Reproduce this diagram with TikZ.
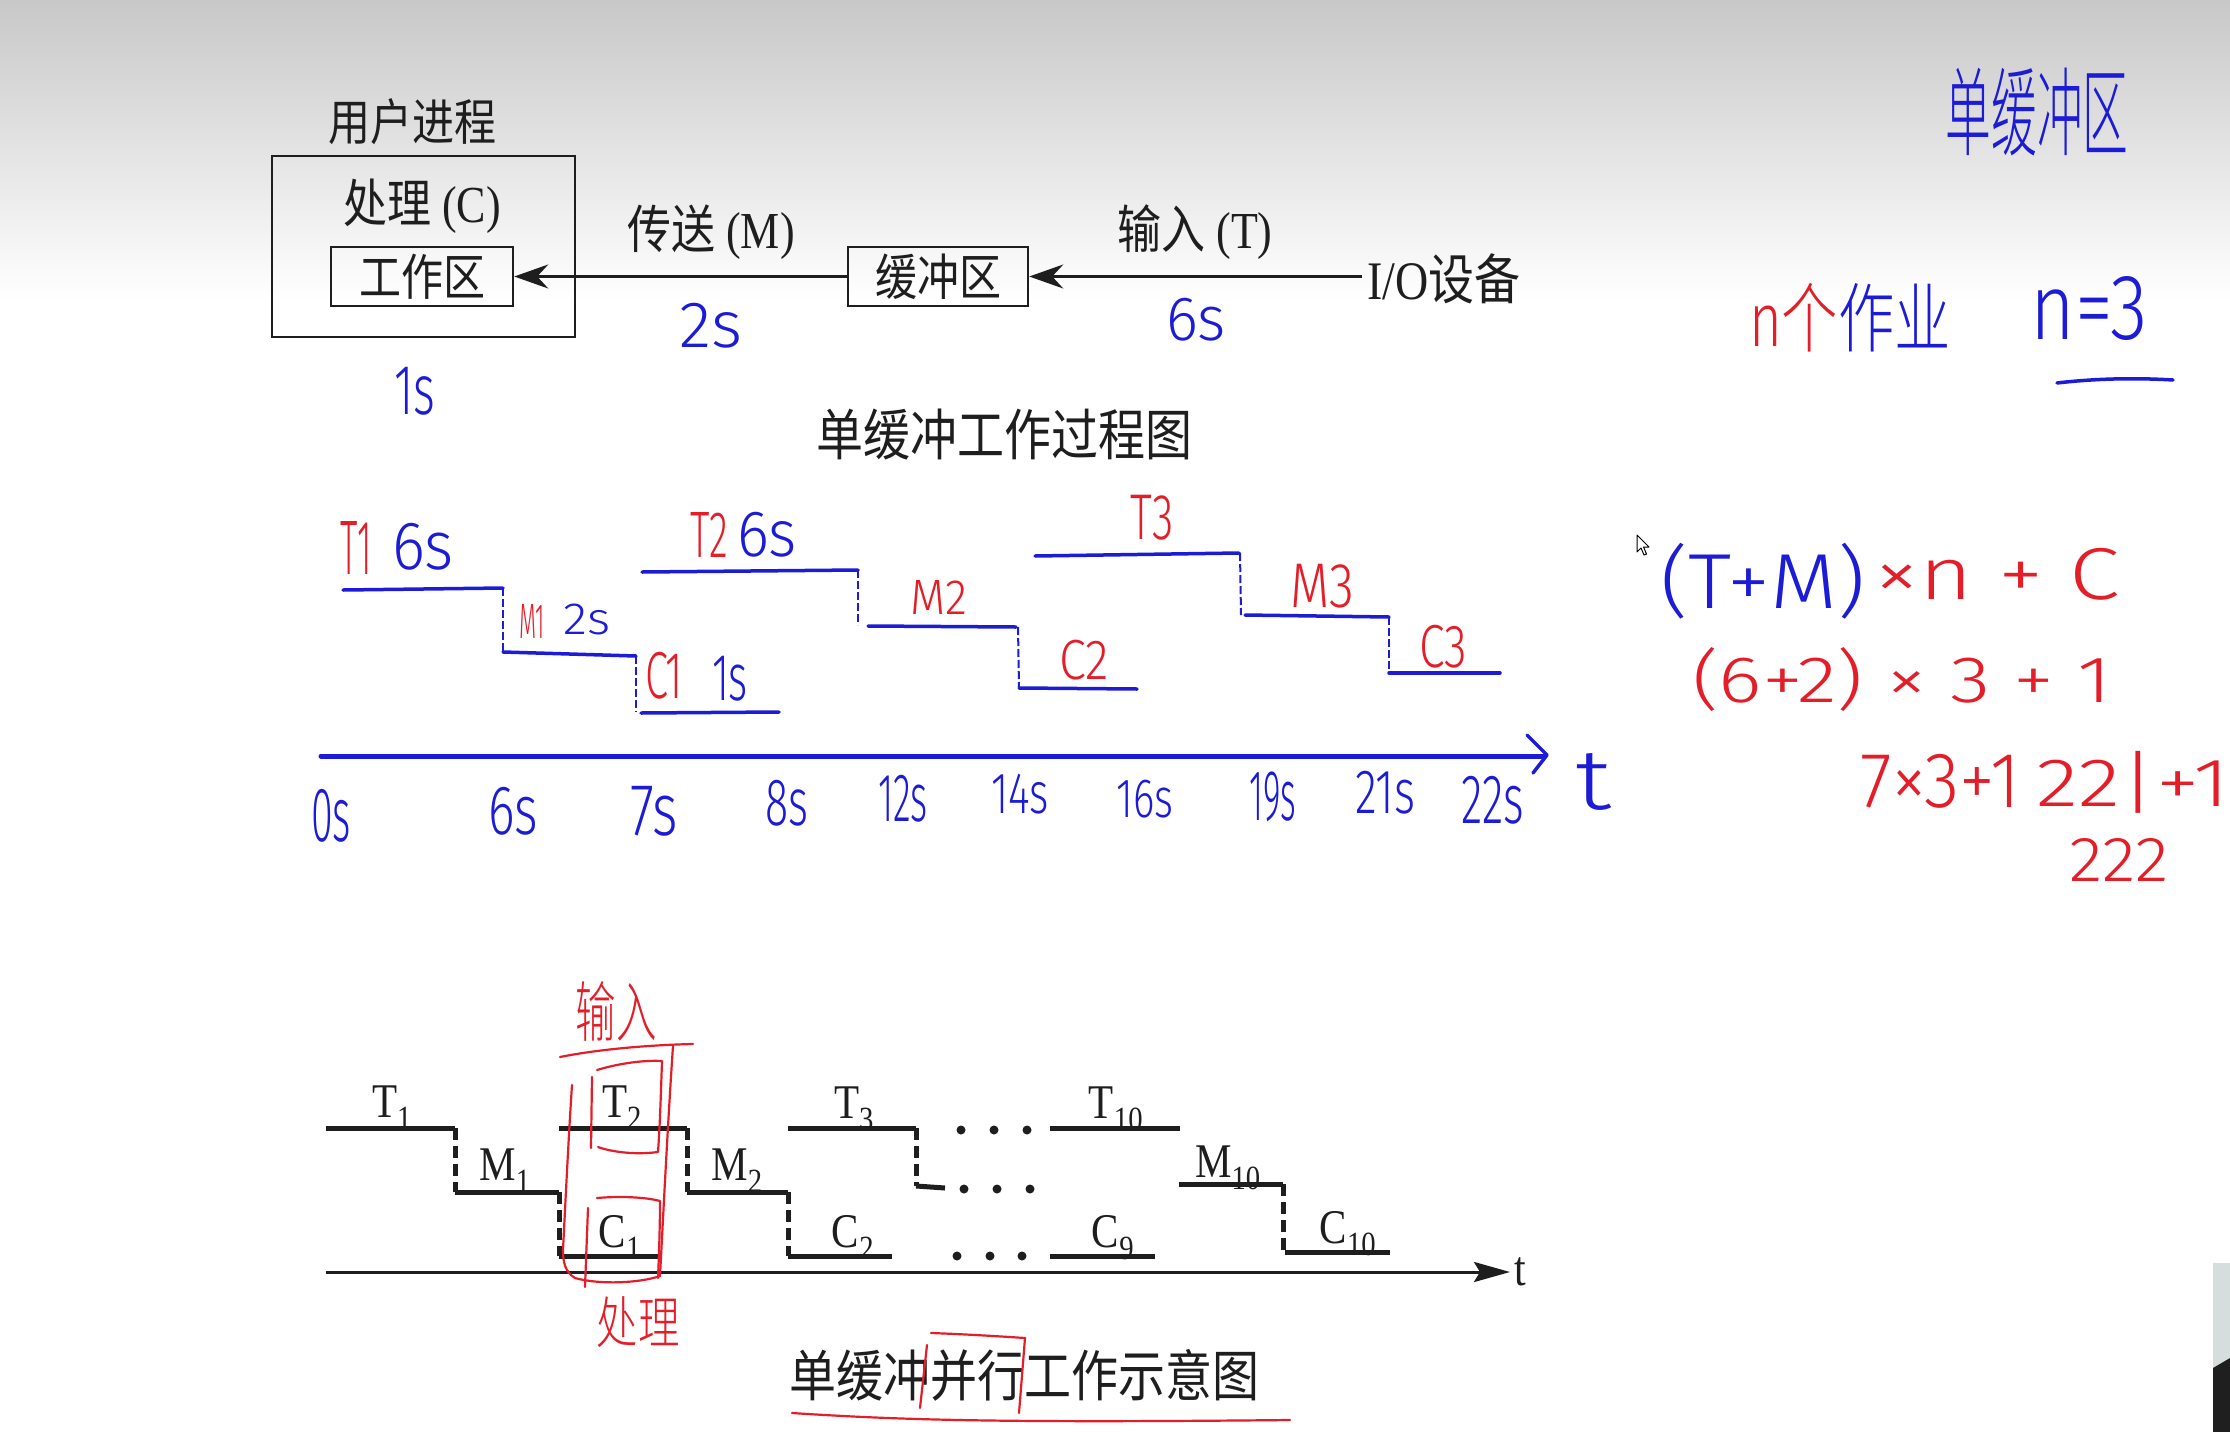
\documentclass[tikz,border=0pt]{standalone}
\usepackage{fontspec}
\usepackage{graphicx}
\setmainfont{Liberation Serif}
\newfontfamily\cjkf{Noto Sans CJK SC}
\newfontfamily\cjkl{Noto Sans CJK SC}[UprightFont=* Light]
\newfontfamily\handf{Fira Sans}[UprightFont=* Light]
\usetikzlibrary{arrows.meta}
\definecolor{ink}{RGB}{30,30,30}
\definecolor{hblue}{RGB}{28,28,215}
\definecolor{hred}{RGB}{228,30,40}
\definecolor{bgtop}{RGB}{200,200,200}
\definecolor{camlight}{RGB}{214,222,221}
\newcommand{\hwbox}[3]{\resizebox*{#1pt}{#2pt}{#3}}
\newcommand{\tall}[1]{\scalebox{1}[1.18]{#1}}
\begin{document}
\begin{tikzpicture}[x=1pt,y=-1pt,
  pt/.style={inner sep=0pt, text=ink, font=\fontsize{44}{48}\selectfont},
  cjk/.style={inner sep=0pt, text=ink, font=\cjkf\fontsize{#1}{#1}\selectfont},
  box/.style={draw=ink, line width=2.5pt, inner sep=0pt, minimum height=59pt, text=ink, font=\cjkf\fontsize{42}{46}\selectfont},
  hwb/.style={inner sep=0pt, text=hblue, font=\handf\fontsize{50}{50}\selectfont},
  hwr/.style={inner sep=0pt, text=hred, font=\handf\fontsize{50}{50}\selectfont},
  hwc/.style={inner sep=0pt, font=\cjkl\fontsize{50}{50}\selectfont},
  hstep/.style={hblue, line width=3.5pt, line cap=round},
  hdrop/.style={hblue, line width=2pt, dash pattern=on 8pt off 3pt},
  bstep/.style={ink, line width=5pt},
  bdrop/.style={ink, line width=5pt, dash pattern=on 12pt off 6pt},
  blbl/.style={inner sep=0pt, text=ink, font=\fontsize{41}{44}\selectfont, anchor=base},
  rline/.style={hred, line width=2.2pt, line cap=round, line join=round},
  dotb/.style={circle, fill=ink, inner sep=0pt, minimum size=9pt},
]
\useasboundingbox (0,0) rectangle (2230,1432);
\fill[white] (0,0) rectangle (2230,1432);
\shade[top color=bgtop, bottom color=white] (0,0) rectangle (2230,300);

% ---------- top diagram ----------
\node[cjk=42] (user) at (412,122) {\tall{用户进程}};
\node[box, minimum width=303pt, minimum height=181pt] (outer) at (423.5,246.5) {};
\node[pt] (proclbl) at (422,206) {\tall{{\cjkf 处理} (C)}};
\node[box, minimum width=182pt] (work) at (422,276.5) {\tall{工作区}};
\node[box, minimum width=180pt] (buf) at (938,276.5) {\tall{缓冲区}};
\node[pt, anchor=west, inner sep=5pt, font=\fontsize{46}{48}\selectfont] (io) at (1362,279) {\tall{I/O{\cjkf 设备}}};
\draw[ink, line width=2.5pt, -{Stealth[length=34pt,width=24pt]}] (buf.west) -- (work.east);
\draw[ink, line width=2.5pt, -{Stealth[length=34pt,width=24pt]}] (io.west |- buf.east) -- (buf.east);
\node[pt] (send) at (711,232) {\tall{{\cjkf 传送} (M)}};
\node[pt] (inp) at (1195,232) {\tall{{\cjkf 输入} (T)}};
\node[hwb] (h2s) at (711,326) {\hwbox{63}{45}{2s}};
\node[hwb] (h6s) at (1196,320) {\hwbox{60}{43}{6s}};
\node[hwb] (h1s) at (415,391) {\hwbox{41}{48}{1s}};
\node[cjk=47] (cap1) at (1004,435) {\tall{单缓冲工作过程图}};

% ---------- top right notes ----------
\node[hwc, text=hblue] (note1) at (2037,112) {\hwbox{183}{88}{单缓冲区}};
\node[hwc] (note2) at (1850,318)
  {\hwbox{202}{69}{\textcolor{hred}{{\handf n}个}\textcolor{hblue}{作业}}};
\node[hwb] (note3) at (2089,309) {\hwbox{117}{64}{n=3}};
\coordinate (ul1) at (2057,383);
\coordinate (ul2) at (2173,380);
\draw[hblue, line width=3.5pt, line cap=round] (ul1) .. controls (2100,378) and (2140,378) .. (ul2);

% ---------- middle hand-drawn chart ----------
\draw[hstep] (343,590) -- (503,588);
\draw[hdrop] (503,588) -- (503,652);
\draw[hstep] (503,652) -- (636,656);
\draw[hdrop] (636,656) -- (636,712);
\draw[hstep] (641,713) -- (779,712);
\draw[hstep] (642,572) -- (858,570);
\draw[hdrop] (858,570) -- (858,625);
\draw[hstep] (868,626) -- (1016,627);
\draw[hdrop] (1018,627) -- (1019,688);
\draw[hstep] (1019,688) -- (1137,689);
\draw[hstep] (1035,556) -- (1239,553);
\draw[hdrop] (1240,553) -- (1241,615);
\draw[hstep] (1245,615) -- (1389,617);
\draw[hdrop] (1389,617) -- (1389,673);
\draw[hstep] (1389,673) -- (1500,673);
\coordinate (ax0) at (321,756);
\coordinate (ax1) at (1543,756);
\draw[hblue, line width=5pt, line cap=round] (ax0) -- (ax1);
\draw[hblue, line width=3.5pt, line cap=round, line join=round] (1527,735) -- (1547,755) -- (1533,773);
\node[hwb] (ht) at (1593,782) {\hwbox{36}{57}{t}};

\node[hwr] (mT1) at (356,548) {\hwbox{31}{53}{T1}};
\node[hwb] (m6a) at (423,547) {\hwbox{62}{47}{6s}};
\node[hwr] (mM1) at (532,621) {\hwbox{26}{34}{M1}};
\node[hwb] (m2s) at (587,619) {\hwbox{47}{31}{2s}};
\node[hwr] (mC1) at (664,676) {\hwbox{38}{47}{C1}};
\node[hwb] (m1s) at (730,679) {\hwbox{36}{45}{1s}};
\node[hwr] (mT2) at (709,535) {\hwbox{38}{45}{T2}};
\node[hwb] (m6b) at (767,535) {\hwbox{60}{45}{6s}};
\node[hwr] (mM2) at (939,597) {\hwbox{57}{34}{M2}};
\node[hwr] (mC2) at (1084,660) {\hwbox{50}{40}{C2}};
\node[hwr] (mT3) at (1152,518) {\hwbox{43}{45}{T3}};
\node[hwr] (mM3) at (1322,586) {\hwbox{64}{44}{M3}};
\node[hwr] (mC3) at (1443,647) {\hwbox{48}{43}{C3}};

\node[hwb] (k0) at (331,816) {\hwbox{40}{53}{0s}};
\node[hwb] (k6) at (513,811) {\hwbox{50}{48}{6s}};
\node[hwb] (k7) at (654,811) {\hwbox{48}{50}{7s}};
\node[hwb] (k8) at (787,803) {\hwbox{43}{46}{8s}};
\node[hwb] (k12) at (903,799) {\hwbox{50}{47}{12s}};
\node[hwb] (k14) at (1020,794) {\hwbox{58}{40}{14s}};
\node[hwb] (k16) at (1145,799) {\hwbox{57}{38}{16s}};
\node[hwb] (k19) at (1273,797) {\hwbox{47}{50}{19s}};
\node[hwb] (k21) at (1385,793) {\hwbox{60}{43}{21s}};
\node[hwb] (k22) at (1493,800) {\hwbox{63}{48}{22s}};

% ---------- formula ----------
\node[hwb] (f1) at (1763,581) {\hwbox{205}{76}{(T+M)}};
\node[hwr] (f2) at (1997,574) {\hwbox{245}{52}{×n + C}};
\node[hwr] (f3) at (1902,679) {\hwbox{420}{64}{(6+2) × 3 + 1}};
\node[hwr] (f4) at (1940,781) {\hwbox{160}{54}{7×3+1}};
\node[hwr] (f5) at (2133,782) {\hwbox{193}{62}{22|+1}};
\node[hwr] (f6) at (2119,860) {\hwbox{100}{43}{222}};

% mouse pointer
\draw[black, fill=white, line width=1pt, line join=round]
  (1637,535) -- (1637,552) -- (1641,548) -- (1644,555) -- (1646.5,554) -- (1643.5,547) -- (1649,547) -- cycle;

% ---------- bottom printed chart ----------
\coordinate (bx0) at (326,1272);
\coordinate (bx1) at (1510,1272);
\draw[ink, line width=3pt, -{Stealth[length=36pt,width=20pt,inset=6pt]}] (bx0) -- (bx1);
\node[inner sep=0pt, text=ink, font=\fontsize{42}{42}\selectfont, anchor=west] (bt) at (1514,1272) {\tall{t}};

\draw[bstep] (326,1128) -- (455,1128);
\draw[bdrop] (455,1128) -- (455,1192);
\draw[bstep] (455,1192) -- (559,1192);
\draw[bdrop] (559,1192) -- (559,1256);
\draw[bstep] (559,1256) -- (661,1256);
\draw[bstep] (559,1128) -- (687,1128);
\draw[bdrop] (687,1128) -- (687,1192);
\draw[bstep] (687,1192) -- (788,1192);
\draw[bdrop] (788,1192) -- (788,1256);
\draw[bstep] (788,1256) -- (892,1256);
\draw[bstep] (788,1128) -- (916,1128);
\draw[bdrop] (916,1128) -- (916,1186);
\draw[bstep] (916,1186) -- (945,1188);
\draw[bstep] (1050,1128) -- (1180,1128);
\draw[bstep] (1179,1184) -- (1283,1184);
\draw[bdrop] (1283,1184) -- (1283,1252);
\draw[bstep] (1285,1252) -- (1390,1252);
\draw[bstep] (1050,1256) -- (1155,1256);

\foreach \i/\x in {a/961,b/994,c/1027} \node[dotb] (dt\i) at (\x,1130) {};
\foreach \i/\x in {a/964,b/997,c/1030} \node[dotb] (dm\i) at (\x,1189) {};
\foreach \i/\x in {a/957,b/990,c/1022} \node[dotb] (dd\i) at (\x,1256) {};

\node[blbl] (bT1) at (392,1117) {\tall{T\textsubscript{1}}};
\node[blbl] (bM1) at (505,1180) {\tall{M\textsubscript{1}}};
\node[blbl] (bC1) at (620,1247) {\tall{C\textsubscript{1}}};
\node[blbl] (bT2) at (622,1117) {\tall{T\textsubscript{2}}};
\node[blbl] (bM2) at (737,1180) {\tall{M\textsubscript{2}}};
\node[blbl] (bC2) at (853,1247) {\tall{C\textsubscript{2}}};
\node[blbl] (bT3) at (854,1118) {\tall{T\textsubscript{3}}};
\node[blbl] (bT10) at (1116,1118) {\tall{T\textsubscript{10}}};
\node[blbl] (bM10) at (1228,1177) {\tall{M\textsubscript{10}}};
\node[blbl] (bC9) at (1113,1247) {\tall{C\textsubscript{9}}};
\node[blbl] (bC10) at (1348,1243) {\tall{C\textsubscript{10}}};

\node[cjk=47] (cap2) at (1024,1375) {\tall{单缓冲并行工作示意图}};

% ---------- red annotations (bottom) ----------
\draw[rline] (560,1057) .. controls (600,1049) and (650,1045) .. (693,1044);
\draw[rline] (673,1046) .. controls (668,1120) and (664,1200) .. (660,1276)
  .. controls (640,1283) and (600,1285) .. (575,1278)
  .. controls (565,1272) and (563,1262) .. (563,1250)
  .. controls (566,1190) and (569,1130) .. (572,1085);
\draw[rline] (592,1077) -- (591,1148);
\draw[rline] (597,1070) .. controls (620,1063) and (645,1060) .. (662,1061)
  .. controls (661,1090) and (660,1125) .. (658,1152)
  .. controls (635,1155) and (612,1152) .. (598,1147);
\draw[rline] (588,1208) -- (585,1287);
\draw[rline] (597,1198) .. controls (620,1196) and (645,1197) .. (660,1201)
  .. controls (660,1225) and (659,1255) .. (658,1278);
\node[hwc, text=hred] (rin) at (616,1011) {\hwbox{81}{60}{输入}};
\node[hwc, text=hred] (rproc) at (638,1322) {\hwbox{83}{51}{处理}};
\draw[rline] (931,1333) .. controls (960,1334) and (995,1336) .. (1025,1338);
\draw[rline] (927,1345) -- (920,1408);
\draw[rline] (1025,1338) -- (1019,1413);
\draw[rline] (792,1413) .. controls (900,1420) and (1000,1423) .. (1290,1420);

% webcam corner
\fill[camlight] (2213,1263) rectangle (2230,1432);
\fill[black!88] (2213,1368) -- (2230,1358) -- (2230,1432) -- (2213,1432) -- cycle;
\end{tikzpicture}
\end{document}
